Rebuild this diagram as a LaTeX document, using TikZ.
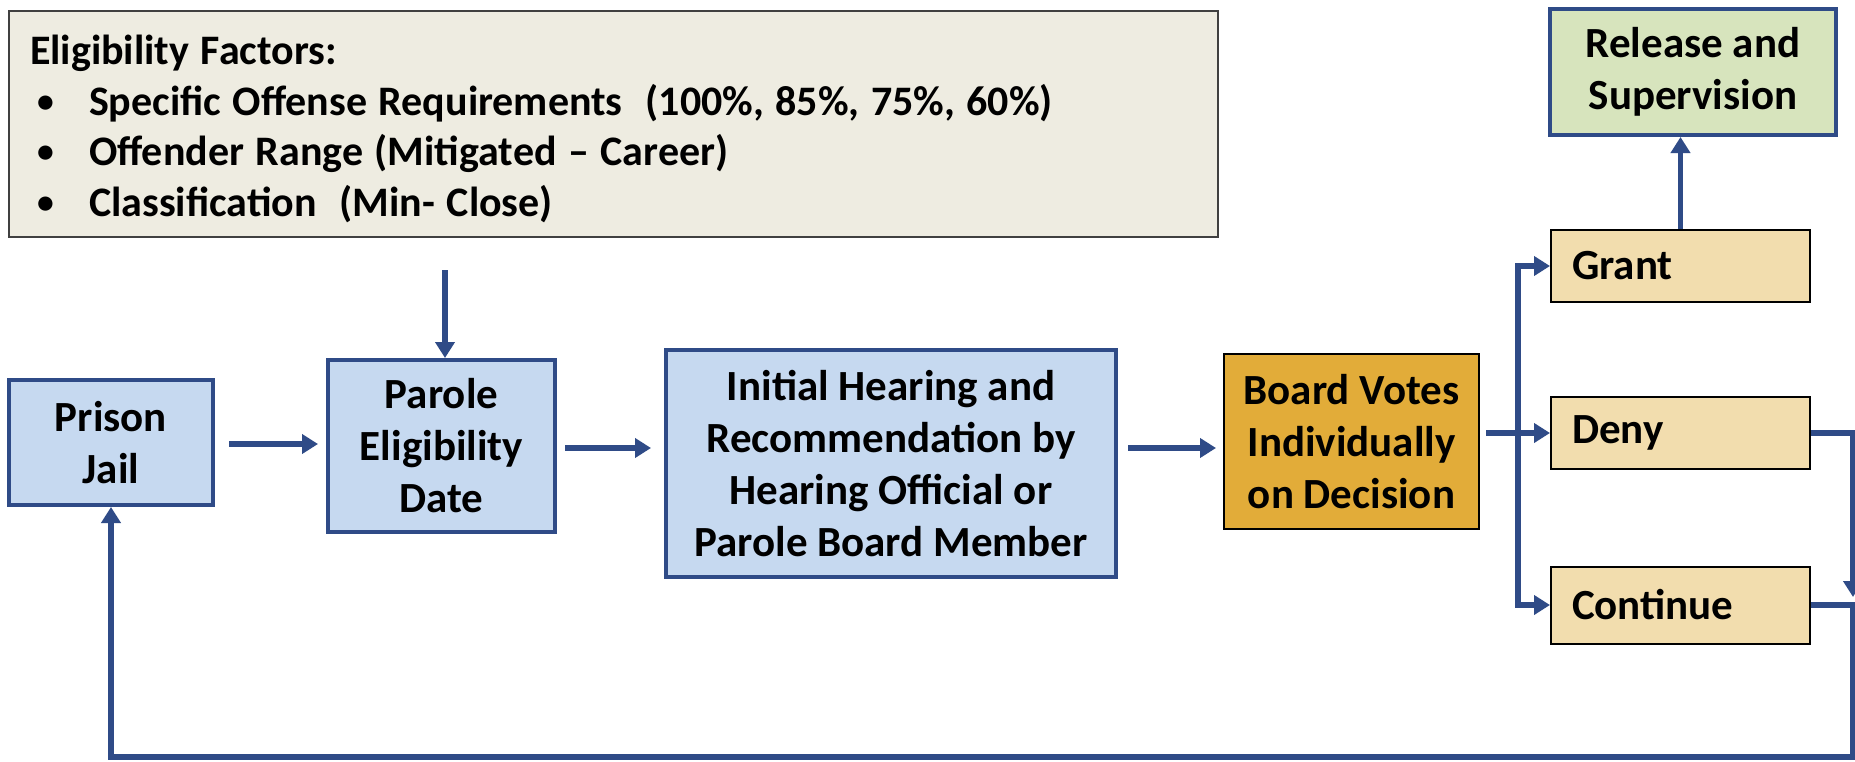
\documentclass[tikz,border=0pt]{standalone}
\usepackage{fontspec}
\setmainfont{Carlito}
\usetikzlibrary{arrows.meta,calc}
\definecolor{lnblue}{HTML}{2F4B87}
\definecolor{boxblue}{HTML}{C6D9F0}
\definecolor{goldfill}{HTML}{E2AC39}
\definecolor{tanfill}{HTML}{F2DDAE}
\definecolor{greenfill}{HTML}{D7E4BD}
\definecolor{greyfill}{HTML}{EEECE1}
\definecolor{greyline}{HTML}{404040}
\newcommand{\blt}{\makebox[59pt][l]{\hspace{7pt}\raisebox{3pt}{\scalebox{0.8}{•}}}}
\newcommand{\narrowspaces}{\spaceskip=11.5pt plus 1pt minus 1pt\relax}
\begin{document}
\begin{tikzpicture}[x=1pt,y=-1pt,
  font=\bfseries\fontsize{43}{52}\selectfont,
  bluebox/.style={draw=lnblue, line width=4pt, fill=boxblue, align=center, inner sep=0pt},
  goldbox/.style={draw=black, line width=2pt, fill=goldfill, align=center, inner sep=0pt},
  greenbox/.style={draw=lnblue, line width=4pt, fill=greenfill, align=center, inner sep=0pt},
  tanbox/.style={draw=black, line width=2pt, fill=tanfill, align=left, inner xsep=21pt, inner ysep=0pt, text width=217pt, minimum height=72pt},
  infobox/.style={draw=greyline, line width=2pt, fill=greyfill, inner sep=0pt},
  infotext/.style={align=left, inner sep=0pt, font=\bfseries\fontsize{42}{50.5}\selectfont},
  arr/.style={draw=lnblue, line width=5.5pt, -{Triangle[length=16pt,width=19pt]}},
  arrtwo/.style={draw=lnblue, line width=5.5pt, {Triangle[length=16pt,width=19pt]}-{Triangle[length=16pt,width=19pt]}}]
\useasboundingbox (0,0) rectangle (1855,761);
\fill[white] (0,0) rectangle (1855,761);

\node[infobox, minimum width=1209pt, minimum height=226pt] (ef) at (613.5,124) {};
\node[infotext, text width=1167pt] (eftext) at (613.5,129)
{\narrowspaces Eligibility Factors:\\
\blt Specific Offense Requirements\ \ (100\%, 85\%, 75\%, 60\%)\\
\blt Offender Range (Mitigated – Career)\\
\blt Classification\ \ (Min- Close)};

\node[bluebox, minimum width=204pt, minimum height=125pt] (prison) at (111,442.5) {Prison\\Jail};
\node[bluebox, minimum width=227pt, minimum height=172pt] (parole) at (441.5,446) {Parole\\Eligibility\\Date};
\node[bluebox, minimum width=450pt, minimum height=227pt] (initial) at (891,463.5) {Initial Hearing and\\Recommendation by\\Hearing Official or\\Parole Board Member};
\node[goldbox, minimum width=255pt, minimum height=175pt] (board) at (1351.5,441.5) {Board Votes\\Individually\\on Decision};
\node[greenbox, minimum width=286pt, minimum height=126pt] (release) at (1693,72) {Release and\\Supervision};
\node[tanbox] (grant) at (1680.5,266) {Grant};
\node[tanbox] (deny) at (1680.5,433) {Deny};
\node[tanbox, minimum height=77pt] (cont) at (1680.5,605) {Continue};

\coordinate (br) at (1518,0);
\coordinate (rx) at (1853,0);
\coordinate (bot) at (0,757);
\coordinate (efsrc) at (445,270);

% main flow
\draw[arr] (efsrc) -- (efsrc |- parole.north);
\draw[arr, shorten <=14pt, shorten >=8pt] (prison.east |- 0,444) -- (parole.west |- 0,444);
\draw[arr, shorten <=8pt, shorten >=13pt] (parole.east |- 0,448) -- (initial.west |- 0,448);
\draw[arr, shorten <=10pt, shorten >=7pt] (initial.east |- 0,448) -- (board.west |- 0,448);
\draw[arr, shorten <=6pt] (board.east |- deny.west) -- (deny.west);
\draw[arrtwo] (grant.west) -- (grant.west -| br) -- (cont.west -| br) -- (cont.west);
\draw[arr] (grant.north) -- (grant.north |- release.south);

% feedback loop
\draw[arr] (deny.east) -- (rx |- deny.east) -- ($(rx |- cont.east)+(0,-8)$);
\draw[arr] (cont.east) -- (rx |- cont.east) -- (rx |- bot) -- (prison.south |- bot) -- (prison.south);
\end{tikzpicture}
\end{document}
